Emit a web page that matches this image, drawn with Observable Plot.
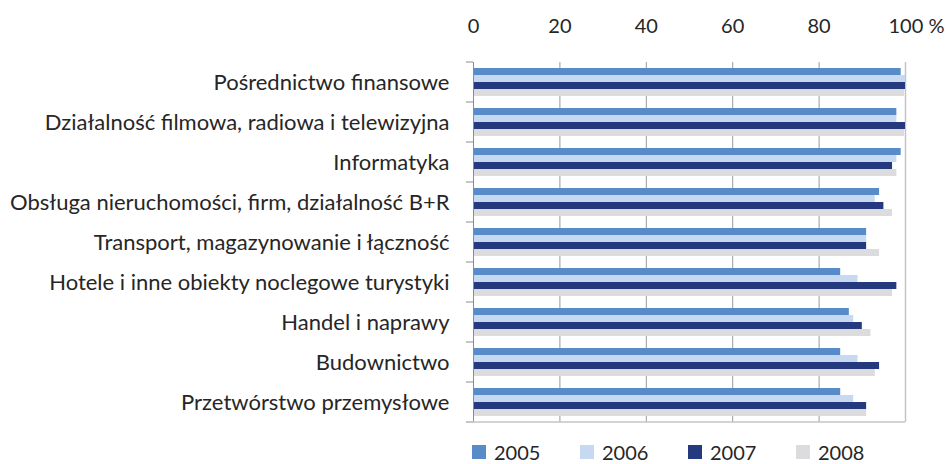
<!DOCTYPE html>
<html>
<head>
<meta charset="utf-8">
<script src="https://cdn.jsdelivr.net/npm/d3@7"></script>
<script src="https://cdn.jsdelivr.net/npm/@observablehq/plot@0.6"></script>
<style>
  html, body { margin: 0; padding: 0; background: #fff; }
  #wrap { width: 948px; height: 464px; position: relative; font-family: Lato, "Open Sans", sans-serif; }
  #legend { position: absolute; left: 472px; top: 440px; display: flex; font-size: 20px; color: #262626; }
  .item { display: flex; align-items: center; width: 108px; }
  .sw { width: 14px; height: 14px; margin-right: 8px; }
</style>
</head>
<body>
<div id="wrap"><div id="chart"></div><div id="legend"></div></div>
<script>
const categories = [
  "Pośrednictwo finansowe",
  "Działalność filmowa, radiowa i telewizyjna",
  "Informatyka",
  "Obsługa nieruchomości, firm, działalność B+R",
  "Transport, magazynowanie i łączność",
  "Hotele i inne obiekty noclegowe turystyki",
  "Handel i naprawy",
  "Budownictwo",
  "Przetwórstwo przemysłowe"
];
const years = ["2005", "2006", "2007", "2008"];
const v2005 = [99, 98, 99, 94, 91, 85, 87, 85, 85];
const v2006 = [100, 98, 98, 93, 91, 89, 88, 89, 88];
const v2007 = [100, 100, 97, 95, 91, 98, 90, 94, 91];
const v2008 = [99.8, 99.8, 98, 97, 94, 97, 92, 93, 91];
const xTicks = [0, 20, 40, 60, 80, 100];
const colors = ["#578cc9", "#c6d9f0", "#253a7e", "#dcdcde"];

const series = [v2005, v2006, v2007, v2008];
const data = [];
categories.forEach((c, i) => years.forEach((y, j) => data.push({category: c, year: y, value: series[j][i]})));

const plot = Plot.plot({
  width: 948,
  height: 432,
  marginLeft: 473,
  marginRight: 43,
  marginTop: 62,
  marginBottom: 10,
  style: {fontFamily: "Lato, 'Open Sans', sans-serif", fontSize: "20px", color: "#262626", background: "#fff"},
  x: {domain: [0, 100], ticks: xTicks, axis: null, label: null},
  fy: {domain: categories, padding: 0, axis: null, label: null},
  y: {domain: years, paddingInner: 0, paddingOuter: 0.7, axis: null, label: null},
  color: {domain: years, range: colors},
  marks: [
    Plot.gridX(xTicks.filter(d => d > 0 && d < 100), {stroke: "#9a9a9a", strokeOpacity: 1}),
    Plot.ruleX([100], {stroke: "#c4c4c4", strokeWidth: 1.5}),
    Plot.barX(data, {fy: "category", y: "year", x: "value", fill: "year"}),
    Plot.ruleX([0], {stroke: "#8c8c8c"}),
    Plot.axisX({anchor: "top", ticks: xTicks.filter(d => d < 100), tickSize: 0, tickPadding: 30, facetAnchor: "top", fontSize: 20, label: null}),
    Plot.axisX({anchor: "top", ticks: xTicks.filter(d => d === 100), tickFormat: d => d + " %", textAnchor: "start", dx: -17, tickSize: 0, tickPadding: 30, facetAnchor: "top", fontSize: 20, label: null}),
    Plot.axisFy({anchor: "left", tickSize: 0, tickPadding: 24, fontSize: 22, textAnchor: "end", label: null})
  ]
});

// boundary ticks on the left axis and bottom baseline, from the plot's own scales
const svg = d3.select(plot);
const fy = plot.scale("fy");
const xs = plot.scale("x");
const x0 = xs.apply(0), x100 = xs.apply(100);
const step = fy.step || (fy.range[1] - fy.range[0]) / categories.length;
const y0 = fy.range[0];
const g = svg.append("g");
for (let i = 0; i <= categories.length; i++) {
  const yy = y0 + i * step;
  g.append("line").attr("x1", x0 - 7).attr("x2", x0).attr("y1", yy).attr("y2", yy).attr("stroke", "#8c8c8c");
}
g.append("line").attr("x1", x0).attr("x2", x100).attr("y1", y0 + categories.length * step).attr("y2", y0 + categories.length * step).attr("stroke", "#c4c4c4").attr("stroke-width", 1.5);

document.getElementById("chart").appendChild(plot);

const legend = document.getElementById("legend");
years.forEach((y, i) => {
  const it = document.createElement("div"); it.className = "item";
  const sw = document.createElement("div"); sw.className = "sw"; sw.style.background = colors[i];
  const t = document.createElement("span"); t.textContent = y;
  it.appendChild(sw); it.appendChild(t); legend.appendChild(it);
});
</script>
</body>
</html>
